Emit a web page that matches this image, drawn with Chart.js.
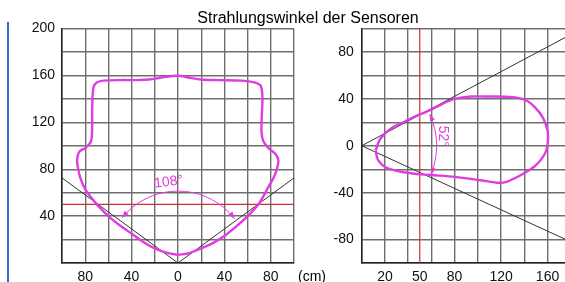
<!DOCTYPE html>
<html>
<head>
<meta charset="utf-8">
<script src="https://cdn.jsdelivr.net/npm/chart.js@4/dist/chart.umd.min.js"></script>
<style>
html, body { margin: 0; padding: 0; background: #fff; overflow: hidden; }
#wrap { position: relative; width: 565px; height: 282px; overflow: hidden; }
#links { position: absolute; left: 0; top: 0; }
#rechts { position: absolute; left: 300px; top: 0; }
#titel { position: absolute; left: 158px; top: 9.5px; width: 300px; text-align: center;
         font: 16px 'Liberation Sans', Arial, sans-serif; line-height: 16px; color: #000; }
#einheit { position: absolute; left: 298px; top: 269px;
           font: 14px 'Liberation Sans', Arial, sans-serif; line-height: 14px; color: #000; }
#rand { position: absolute; left: 7px; top: 22px; width: 2px; height: 260px; background: #3b68c4; }
</style>
</head>
<body>
<div id="wrap">
  <div id="rand"></div>
  <canvas id="links" width="300" height="282"></canvas>
  <canvas id="rechts" width="300" height="282"></canvas>
  <div id="titel">Strahlungswinkel der Sensoren</div>
  <div id="einheit">(cm)</div>
</div>
<script>
// Werte (cm)

// linkes Diagramm: Abstrahlung von oben
const linksKurveX = [0, -10, -20, -30, -40, -50, -60, -70, -75, -80, -84, -86, -87, -85, -80, -76, -74.5,
  -74, -74, -73.5, -72.5, -70, -64, -50, -35, -25, -15, -5, 2, 10, 20, 35, 55, 66, 71, 72.5,
  72.8, 72.2, 72, 73.5, 78, 84, 86.5, 85.5, 82.5, 78, 70, 60, 50, 40, 30, 20, 10, 0];
const linksKurveY = [7, 8.8, 12.5, 18, 25, 32, 40, 50, 56, 63, 72, 80, 88, 95, 98, 102, 106,
  115, 130, 145, 151, 154, 155.5, 156, 156, 156.5, 158, 159.5, 159.5, 158, 156.5, 156, 155.5, 154, 151.5, 146,
  138, 125, 112, 104, 98, 93, 88, 81, 73, 65, 51, 40, 31, 23, 17, 12.5, 8.5, 7];
const linksStrahlX = [-100, 0, 100];
const linksStrahlY = [72.6, 0, 72.6];
const linksRotX = [-100, 100];
const linksRotY = [50, 50];
const linksWinkel = { label: '108°', from: 38, to: 141, radius: 62, labelX: -8, labelY: 69, rot: -7 };

const linksXTicks = [-80, -40, 0, 40, 80];
const linksXLabels = ['80', '40', '0', '40', '80'];
const linksYTicks = [40, 80, 120, 160, 200];
const linksYLabels = ['40', '80', '120', '160', '200'];

// rechtes Diagramm: Abstrahlung von der Seite
const rechtsKurveX = [12, 14, 22, 42, 60, 80, 102, 116, 124, 138, 149, 155, 159, 160.3, 160, 156,
  149, 141, 130, 110, 94, 80, 70, 58, 45, 37, 25.5, 16, 12];
const rechtsKurveY = [-4, -12, -19, -23.5, -25, -26.5, -29.4, -31.5, -31, -24.5, -17.5, -11, -4, 4, 13, 24,
  33, 39, 41.5, 42, 42, 40, 36, 30, 24.5, 20.5, 15, 6, -4];
const rechtsStrahlObenX = [0, 200];
const rechtsStrahlObenY = [0, 105.4];
const rechtsStrahlUntenX = [0, 200];
const rechtsStrahlUntenY = [0, -91];
const rechtsRotX = [50, 50];
const rechtsRotY = [-100, 100];
const rechtsWinkel = { label: '52°', from: -22.5, to: 25, radius: 64.5, labelX: 69.5, labelY: 8, rot: 90 };

const rechtsXTicks = [20, 50, 80, 120, 160];
const rechtsXLabels = ['20', '50', '80', '120', '160'];
const rechtsYTicks = [-80, -40, 0, 40, 80];
const rechtsYLabels = ['-80', '-40', '0', '40', '80'];

const rasterSchritt = 20;
const MAGENTA = '#e03ce0';
const SCHRIFT = "'Liberation Sans', Arial, sans-serif";

function punkte(xs, ys) {
    return xs.map((x, i) => ({ x: x, y: ys[i] }));
}

function rasterWerte(min, max) {
    const werte = [];
    for (let v = min; v <= max; v += rasterSchritt) werte.push(v);
    return werte;
}

// Skala mit festem Raster, Beschriftung nur an bestimmten Werten
function achse(min, max, extra, tickWerte, tickTexte, groesse, istX, padding) {
    const werte = rasterWerte(min, max).concat(extra).sort((a, b) => a - b);
    return {
        type: 'linear',
        min: min,
        max: max,
        afterBuildTicks: s => { s.ticks = werte.map(v => ({ value: v })); },
        afterFit: s => { if (istX) s.height = groesse; else s.width = groesse; },
        grid: {
            drawTicks: false,
            lineWidth: 1.4,
            color: c => (c.tick && c.tick.value % rasterSchritt !== 0) ? 'rgba(0,0,0,0)' : '#6e6e6e'
        },
        border: { color: '#222', width: 1.5 },
        ticks: {
            autoSkip: false,
            maxRotation: 0,
            padding: padding,
            color: '#111',
            font: { family: SCHRIFT, size: 14 },
            callback: v => {
                const i = tickWerte.indexOf(v);
                return i >= 0 ? tickTexte[i] : '';
            }
        }
    };
}

// Winkelbogen mit Pfeilspitzen und Gradangabe
const winkelPlugin = {
    id: 'winkelBogen',
    afterDatasetsDraw(chart, args, o) {
        const { ctx } = chart;
        const sx = chart.scales.x, sy = chart.scales.y;
        const cx = sx.getPixelForValue(0), cy = sy.getPixelForValue(0);
        const r = sx.getPixelForValue(o.radius) - cx;
        const rad = g => g * Math.PI / 180;
        const a0 = -rad(o.to), a1 = -rad(o.from);
        ctx.save();
        ctx.strokeStyle = MAGENTA;
        ctx.fillStyle = MAGENTA;
        ctx.lineWidth = 1;
        ctx.beginPath();
        ctx.arc(cx, cy, r, a0, a1);
        ctx.stroke();
        const spitze = (a, richtung) => {
            const px = cx + r * Math.cos(a), py = cy + r * Math.sin(a);
            const dx = -Math.sin(a) * richtung, dy = Math.cos(a) * richtung;
            const l = 7, b = 2.6;
            ctx.beginPath();
            ctx.moveTo(px, py);
            ctx.lineTo(px - dx * l - dy * b, py - dy * l + dx * b);
            ctx.lineTo(px - dx * l + dy * b, py - dy * l - dx * b);
            ctx.closePath();
            ctx.fill();
        };
        spitze(a0, -1);
        spitze(a1, 1);
        ctx.translate(sx.getPixelForValue(o.labelX), sy.getPixelForValue(o.labelY));
        ctx.rotate(rad(o.rot));
        ctx.font = '14px ' + SCHRIFT;
        ctx.textAlign = 'center';
        ctx.textBaseline = 'middle';
        ctx.fillText(o.label, 0, 0);
        ctx.restore();
    }
};

function linie(daten, farbe, breite, spannung) {
    return {
        data: daten,
        showLine: true,
        borderColor: farbe,
        borderWidth: breite,
        pointRadius: 0,
        tension: spannung || 0,
        fill: false
    };
}

function diagramm(id, datasets, xAchse, yAchse, winkel, padRechts) {
    new Chart(document.getElementById(id), {
        type: 'scatter',
        data: { datasets: datasets },
        options: {
            responsive: false,
            animation: false,
            layout: { padding: { top: 28.5, right: padRechts, left: 0, bottom: 0 } },
            plugins: {
                legend: { display: false },
                tooltip: { enabled: false },
                winkelBogen: winkel
            },
            scales: { x: xAchse, y: yAchse }
        },
        plugins: [winkelPlugin]
    });
}

diagramm('links', [
    linie(punkte(linksKurveX, linksKurveY), MAGENTA, 2.4, 0.3),
    linie(punkte(linksStrahlX, linksStrahlY), '#333', 1),
    linie(punkte(linksRotX, linksRotY), '#d0302c', 1.2)
], achse(-100, 100, [], linksXTicks, linksXLabels, 19, true, 6),
   achse(0, 200, [], linksYTicks, linksYLabels, 62, false, 7),
   linksWinkel, 4);

diagramm('rechts', [
    linie(punkte(rechtsKurveX, rechtsKurveY), MAGENTA, 2.4, 0.3),
    linie(punkte(rechtsStrahlObenX, rechtsStrahlObenY), '#333', 1),
    linie(punkte(rechtsStrahlUntenX, rechtsStrahlUntenY), '#333', 1),
    linie(punkte(rechtsRotX, rechtsRotY), '#d0302c', 1.2)
], achse(0, 200, [50], rechtsXTicks, rechtsXLabels, 19, true, 6),
   achse(-100, 100, [], rechtsYTicks, rechtsYLabels, 61.7, false, 8),
   rechtsWinkel, 3.3);
</script>
</body>
</html>
